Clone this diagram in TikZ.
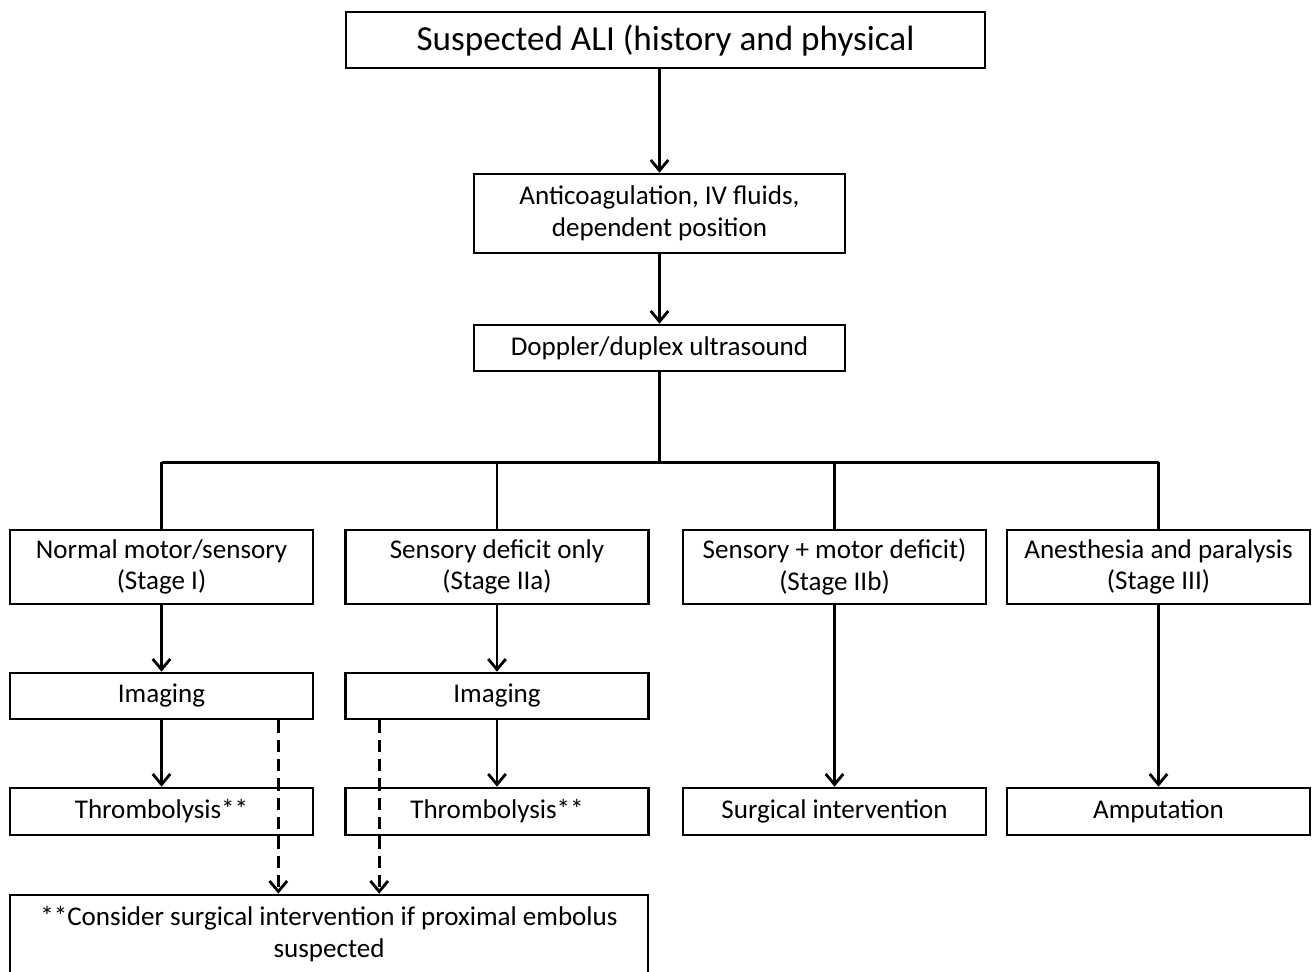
\documentclass[tikz,border=0pt]{standalone}
\usepackage{fontspec}
\setmainfont{Carlito}
\usetikzlibrary{arrows.meta, calc}

\begin{document}
\begin{tikzpicture}[x=0.02cm, y=-0.02cm, >={Straight Barb[length=6pt,width=10pt]},
    line width=1.6pt, font=\fontsize{15.4}{18}\selectfont,
    box/.style={draw, line width=1.5pt, align=center, inner sep=0pt, minimum width=6.06cm},
    wide/.style={box, minimum width=7.42cm},
    flow/.style={->},
    alt/.style={->, dash pattern=on 7pt off 4pt}]
    % ================= Parameters =================
    \def\yStage{567}     % Stage row
    \def\yImg{696}       % Imaging row
    \def\yEnd{811.5}     % Treatment row

    % Canvas
    \useasboundingbox (0,0) rectangle (1312,971);
    \clip (0,0) rectangle (1312,971);

    % ================= Top of the chart =================
    \node[box, minimum width=12.78cm, minimum height=1.12cm, font=\fontsize{20}{24}\selectfont]
        (ali) at (665.5, 40) {Suspected ALI (history and physical};
    \node[wide, minimum height=1.58cm] (anticoag) at (659.5, 213.5)
        {Anticoagulation, IV fluids,\\dependent position};
    \node[wide, minimum height=0.92cm] (doppler) at (659.5, 348) {Doppler/duplex ultrasound};

    % ================= Stages =================
    \node[box, minimum height=1.48cm] (stageI)   at (161.5, \yStage) {Normal motor/sensory\\(Stage I)};
    \node[box, minimum height=1.48cm] (stageIIa) at (497, \yStage)   {Sensory deficit only\\(Stage IIa)};
    \node[box, minimum height=1.48cm] (stageIIb) at (834.5, \yStage) {Sensory + motor deficit)\\(Stage IIb)};
    \node[box, minimum height=1.48cm] (stageIII) at (1158.5, \yStage) {Anesthesia and paralysis\\(Stage III)};

    % ================= Imaging and treatment =================
    \node[box, minimum height=0.92cm] (imgI)   at (161.5, \yImg) {Imaging};
    \node[box, minimum height=0.92cm] (imgIIa) at (497, \yImg)   {Imaging};

    \node[box, minimum height=0.94cm] (thrI)       at (161.5, \yEnd)  {Thrombolysis**};
    \node[box, minimum height=0.94cm] (thrIIa)     at (497, \yEnd)    {Thrombolysis**};
    \node[box, minimum height=0.94cm] (surgery)    at (834.5, \yEnd)  {Surgical intervention};
    \node[box, minimum height=0.94cm] (amputation) at (1158.5, \yEnd) {Amputation};

    % Footnote box (runs past the lower edge)
    \node[box, minimum width=12.76cm, minimum height=1.56cm] (note) at (329, 934)
        {**Consider surgical intervention if proximal embolus\\suspected};

    % ================= Connectors =================
    \draw[flow] (anticoag.north |- ali.south) -- (anticoag.north);
    \draw[flow] (anticoag) -- (doppler);

    % Split to the four stages
    \coordinate (split) at ($(doppler.south)+(0,90)$);
    \draw (doppler.south) -- (split);
    \draw (stageI.north |- split) -- (stageIII.north |- split);
    \foreach \s in {stageI, stageIIa, stageIIb, stageIII}
        \draw (\s.north |- split) -- (\s.north);

    % Stage I and IIa
    \draw[flow] (stageI) -- (imgI);
    \draw[flow] (imgI) -- (thrI);
    \draw[flow] (stageIIa) -- (imgIIa);
    \draw[flow] (imgIIa) -- (thrIIa);

    % Stage IIb and III
    \draw[flow] (stageIIb) -- (surgery);
    \draw[flow] (stageIII) -- (amputation);

    % Dashed paths to the footnote
    \coordinate (dashI) at ([xshift=-0.72cm]imgI.south east);
    \coordinate (dashIIa) at ([xshift=0.7cm]imgIIa.south west);
    \draw[alt] (dashI) -- (dashI |- note.north);
    \draw[alt] (dashIIa) -- (dashIIa |- note.north);

\end{tikzpicture}
\end{document}
